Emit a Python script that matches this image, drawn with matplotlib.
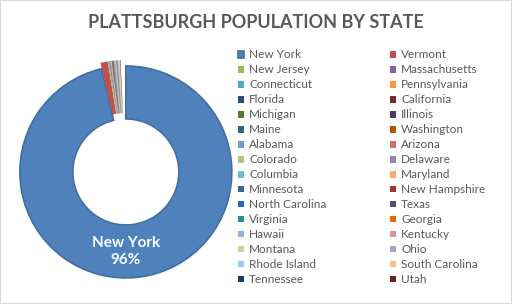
import matplotlib
matplotlib.use("Agg")
import matplotlib.pyplot as plt
from matplotlib.patches import Rectangle

title = "PLATTSBURGH POPULATION BY STATE"
states = ["New York", "Vermont", "New Jersey", "Massachusetts", "Connecticut", "Pennsylvania",
          "Florida", "California", "Michigan", "Illinois", "Maine", "Washington",
          "Alabama", "Arizona", "Colorado", "Delaware", "Columbia", "Maryland",
          "Minnesota", "New Hampshire", "North Carolina", "Texas", "Virginia", "Georgia",
          "Hawaii", "Kentucky", "Montana", "Ohio", "Rhode Island", "South Carolina",
          "Tennessee", "Utah"]
shares = [0.963, 0.011, 0.0020, 0.0015, 0.0012, 0.0012,
          0.0010, 0.0010, 0.00045, 0.00045, 0.00045, 0.00045,
          0.00045, 0.00045, 0.00045, 0.00045, 0.00045, 0.00045,
          0.00045, 0.00045, 0.00045, 0.00045, 0.00045, 0.00045,
          0.00045, 0.00045, 0.00045, 0.00045, 0.00045, 0.00045,
          0.00045, 0.00045]
colors = ["#4F81BD", "#C0504D", "#9BBB59", "#8064A2", "#4BACC6", "#F79646",
          "#2C4D75", "#772C2A", "#5F7530", "#4D3B62", "#276A7C", "#B65708",
          "#729ACA", "#CD7371", "#AFC97A", "#9983B5", "#6FBDD1", "#F9AB6B",
          "#3A679C", "#9E3532", "#1B6AC0", "#5C4684", "#2E8A9E", "#E46C0A",
          "#95B3D7", "#D99694", "#C3D69B", "#B3A2C7", "#93CDDD", "#FAC090",
          "#1F3B61", "#632523"]

W, H = 512, 304
fig = plt.figure(figsize=(W / 100, H / 100), dpi=100)
fig.patch.set_facecolor("white")
fig.patches.append(Rectangle((0, 0), 1, 1, transform=fig.transFigure, fill=False,
                             edgecolor="#d9d9d9", lw=1.5))

# donut
cx, cy, R, half = 125.5, 169, 106, 116
ax = fig.add_axes([(cx - half) / W, (H - cy - half) / H, 2 * half / W, 2 * half / H])
wedges, _ = ax.pie(shares, colors=colors, startangle=90, counterclock=False,
                   normalize=False, radius=1, explode=[0.028] * len(shares),
                   wedgeprops=dict(width=0.5, linewidth=0))
wedges[0].set_edgecolor("#41709f")
wedges[0].set_linewidth(1.2)
lim = half / R
ax.set_xlim(-lim, lim)
ax.set_ylim(-lim, lim)
ax.set_aspect("equal")
ax.axis("off")

wc = wedges[0].center
ax.text(wc[0], wc[1] - 0.75, f"{states[0]}\n{round(shares[0] * 100)}%", ha="center",
        va="center", color="white", fontsize=11, fontweight="bold", family="Lato",
        linespacing=1.25)

fig.text(0.5, 1 - 22 / H, title, ha="center", va="center", fontsize=13,
         fontweight="bold", color="#595959", family="Lato")

common = dict(loc="upper left", frameon=False, handlelength=0.5,
              handleheight=0.5, handletextpad=0.45, labelspacing=0.337,
              borderpad=0, borderaxespad=0, labelcolor="#595959",
              prop=dict(family="Lato", size=8.5))
leg1 = fig.legend(wedges[0::2], states[0::2], bbox_to_anchor=(238 / W, 1 - 49.5 / H), **common)
leg2 = fig.legend(wedges[1::2], states[1::2], bbox_to_anchor=(390 / W, 1 - 49.5 / H), **common)

fig.savefig("out.png", dpi=100)
